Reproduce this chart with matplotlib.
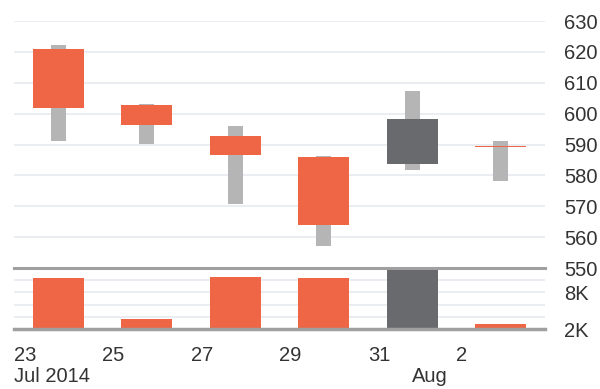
import matplotlib
matplotlib.use("Agg")
import matplotlib.pyplot as plt
import pandas as pd

# --- data ---
dates = ["2014-07-24", "2014-07-26", "2014-07-28", "2014-07-30", "2014-08-01", "2014-08-03"]
opens = [620.8, 602.9, 592.7, 585.8, 583.6, 589.5]
closes = [601.7, 596.2, 586.5, 563.8, 598.3, 589.1]
highs = [622.2, 603.1, 596.0, 586.3, 607.3, 591.0]
lows = [591.1, 590.1, 570.6, 557.2, 581.7, 578.2]
volumes = [10300, 3600, 10500, 10400, 12500, 2800]

tick_dates = ["2014-07-23", "2014-07-25", "2014-07-27", "2014-07-29", "2014-07-31", "2014-08-02"]
price_ticks = [550, 560, 570, 580, 590, 600, 610, 620, 630]
vol_ticks = [2000, 4000, 6000, 8000, 10000, 12000]
vol_labels = ["2K", "", "", "8K", "", ""]

start = pd.Timestamp("2014-07-23")
x = [(pd.Timestamp(d) - start).days for d in dates]
xt = [(pd.Timestamp(d) - start).days for d in tick_dates]
xt_labels = [str(pd.Timestamp(d).day) for d in tick_dates]

ORANGE = "#EE6646"
DARK = "#686A6E"
WICK = "#B5B5B5"
GRID = "#E8ECF0"
SEP = "#A0A0A0"
TXT = "#333333"

plt.rcParams["font.family"] = ["Liberation Sans", "DejaVu Sans"]
fs = 14.5

fig = plt.figure(figsize=(6.0, 3.89), dpi=100)
ax = fig.add_axes([0.0233, 0.311, 0.885, 0.635])
axv = fig.add_axes([0.0233, 0.1542, 0.885, 0.157], sharex=ax)

colors = [DARK if c > o else ORANGE for o, c in zip(opens, closes)]

# wicks
ax.bar(x, [h - l for h, l in zip(highs, lows)], bottom=lows, width=0.345,
       color=WICK, zorder=2)
# bodies
bottoms = [min(o, c) for o, c in zip(opens, closes)]
heights = [max(abs(c - o), 0.5) for o, c in zip(opens, closes)]
ax.bar(x, heights, bottom=bottoms, width=1.16, color=colors, zorder=3)

ax.set_ylim(550, 630)
ax.set_xlim(0, 12)
ax.set_yticks(price_ticks)
ax.grid(axis="y", color=GRID, linewidth=1.3, zorder=0)

# volume
axv.bar(x, volumes, width=1.16, color=colors, zorder=3)
axv.set_ylim(2000, 12000)
axv.set_yticks(vol_ticks)
axv.set_yticklabels(vol_labels)
axv.grid(axis="y", color=GRID, linewidth=1.3, zorder=0)
axv.axhline(2000, color=SEP, linewidth=2.5, zorder=4, clip_on=False)
axv.axhline(12000, color=SEP, linewidth=2.2, zorder=4, clip_on=False)

for a in (ax, axv):
    for s in a.spines.values():
        s.set_visible(False)
    a.yaxis.tick_right()
    a.tick_params(axis="y", length=0, pad=14, labelsize=fs, labelcolor=TXT)
    a.set_axisbelow(True)

ax.tick_params(axis="x", which="both", length=0, labelbottom=False)
axv.xaxis.remove_overlapping_locs = False
axv.set_xticks(xt)
axv.set_xticklabels(xt_labels, ha="left")
axv.set_xticks([0, 9], minor=True)
axv.set_xticklabels(["Jul 2014", "Aug"], minor=True, ha="left")
axv.tick_params(axis="x", which="major", length=0, pad=12.5, labelsize=fs, labelcolor=TXT)
axv.tick_params(axis="x", which="minor", length=0, pad=27, labelsize=fs, labelcolor=TXT)

fig.savefig("out.png", dpi=100)
